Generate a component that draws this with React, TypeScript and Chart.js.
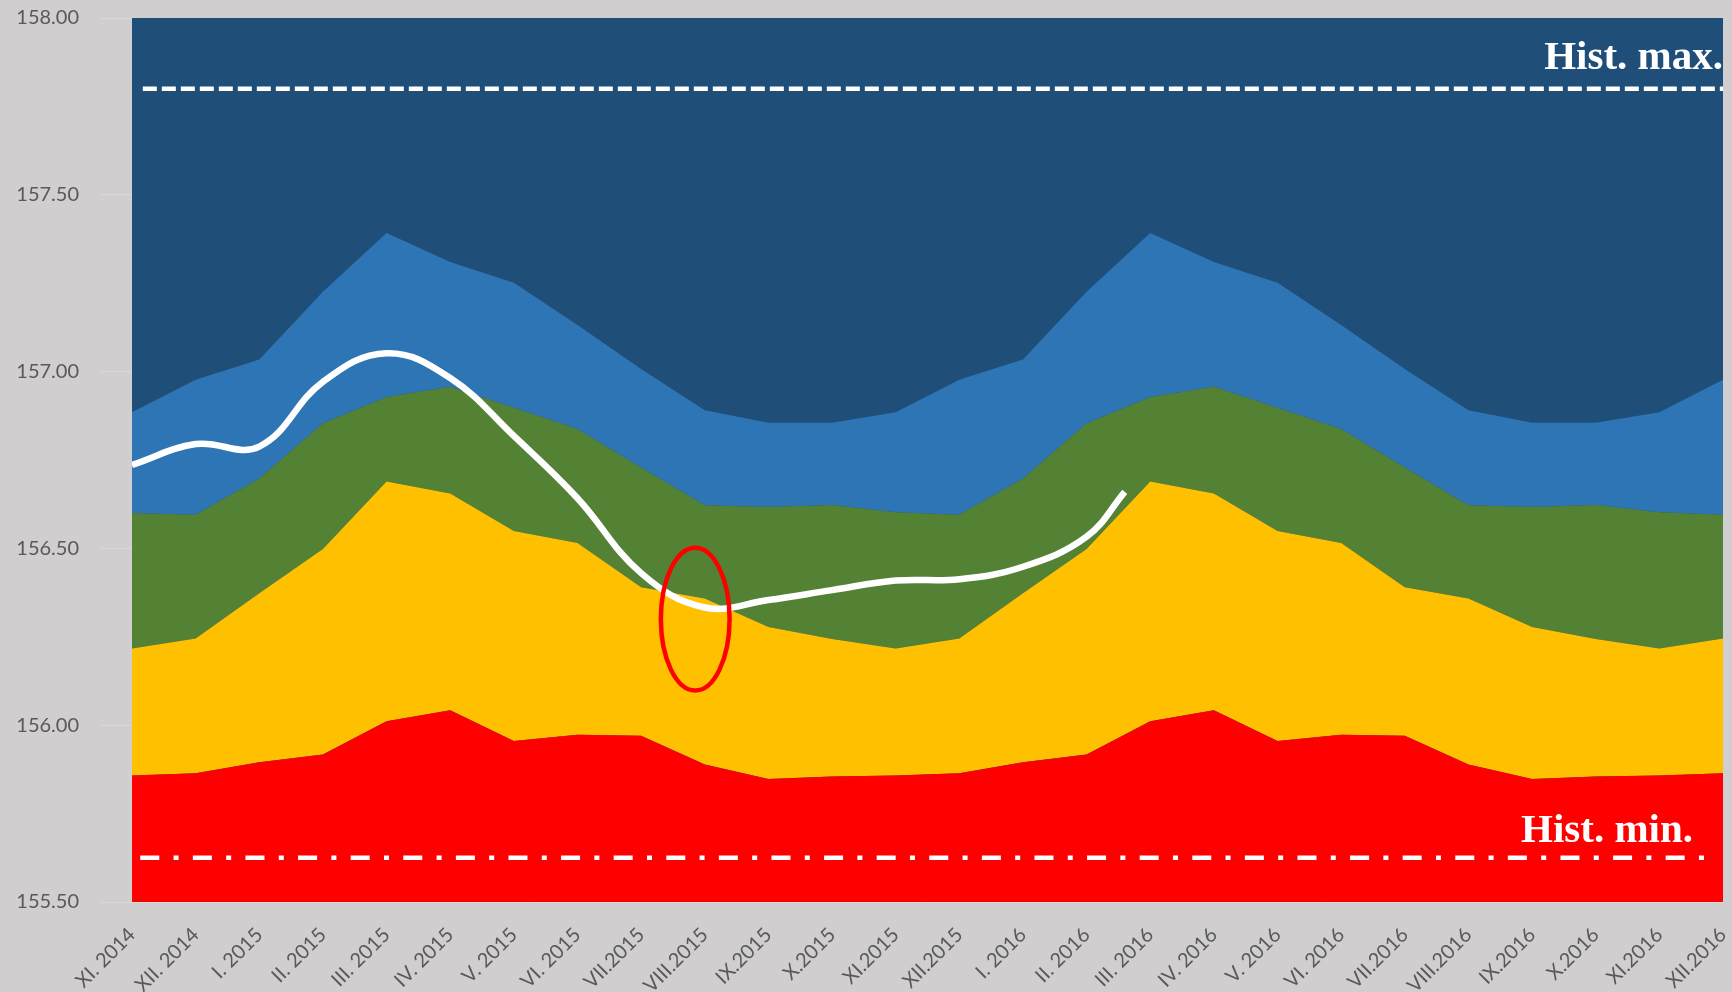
import React, { useEffect, useRef } from 'react';
import { Chart, registerables } from 'chart.js';

Chart.register(...registerables);

// ---------- data ----------
const months = [
  'XI. 2014', 'XII. 2014', 'I. 2015', 'II. 2015', 'III. 2015', 'IV. 2015', 'V. 2015', 'VI. 2015',
  'VII.2015', 'VIII.2015', 'IX.2015', 'X.2015', 'XI.2015', 'XII.2015', 'I. 2016', 'II. 2016',
  'III. 2016', 'IV. 2016', 'V. 2016', 'VI. 2016', 'VII.2016', 'VIII.2016', 'IX.2016', 'X.2016',
  'XI.2016', 'XII.2016',
];

// upper edge of each coloured band
const redTop = [
  155.858, 155.864, 155.895, 155.917, 156.011, 156.042, 155.955, 155.973, 155.970, 155.889, 155.848, 155.855,
  155.858, 155.864, 155.895, 155.917, 156.011, 156.042, 155.955, 155.973, 155.970, 155.889, 155.848, 155.855,
  155.858, 155.864,
];
const yellowTop = [
  156.217, 156.245, 156.373, 156.498, 156.689, 156.655, 156.549, 156.515, 156.390, 156.358, 156.278, 156.244,
  156.217, 156.245, 156.373, 156.498, 156.689, 156.655, 156.549, 156.515, 156.390, 156.358, 156.278, 156.244,
  156.217, 156.245,
];
const greenTop = [
  156.600, 156.595, 156.698, 156.854, 156.928, 156.957, 156.898, 156.838, 156.729, 156.622, 156.617, 156.623,
  156.602, 156.595, 156.698, 156.854, 156.928, 156.957, 156.898, 156.838, 156.729, 156.622, 156.617, 156.623,
  156.602, 156.595,
];
const lightBlueTop = [
  156.885, 156.977, 157.034, 157.226, 157.392, 157.310, 157.251, 157.132, 157.007, 156.891, 156.855, 156.855,
  156.885, 156.977, 157.034, 157.226, 157.392, 157.310, 157.251, 157.132, 157.007, 156.891, 156.855, 156.855,
  156.885, 156.977,
];

// actual level (white curve), positions in month index
const actualX = [0, 1, 2, 3, 4, 5, 6, 7, 8, 9, 10, 11, 12, 13, 14, 15, 15.6];
const actualY = [
  156.736, 156.795, 156.788, 156.971, 157.052, 156.982, 156.818, 156.642, 156.430, 156.333, 156.354, 156.382,
  156.409, 156.413, 156.448, 156.533, 156.660,
];

const histMax = 157.8;
const histMin = 155.625;
const histMaxX = [0.17, 25];
const histMinX = [0.13, 24.81];

const ellipseCenter = { x: 8.85, y: 156.3 };
const ellipseRadius = { x: 0.54, y: 0.202 };

const yMin = 155.5;
const yMax = 158;
const yStep = 0.5;

// ---------- styles ----------
const BG = '#D0CECE';
const DARK_BLUE = '#1F4E79';
const LIGHT_BLUE = '#2E75B6';
const GREEN = '#548235';
const GOLD = '#FFC000';
const RED = '#FF0000';
const LABEL = '#595959';

const bandStyle = (color: string, fill: any) => ({
  backgroundColor: color,
  borderColor: color,
  borderWidth: 0,
  pointRadius: 0,
  fill,
  tension: 0,
  order: 5,
});

const overlayPlugin = {
  id: 'overlay',
  beforeDraw(chart: any) {
    const ctx = chart.ctx;
    ctx.save();
    ctx.fillStyle = BG;
    ctx.fillRect(0, 0, chart.width, chart.height);
    ctx.restore();
  },
  beforeDatasetsDraw(chart: any) {
    const { left, top, width, height } = chart.chartArea;
    const ctx = chart.ctx;
    ctx.save();
    ctx.fillStyle = DARK_BLUE;
    ctx.fillRect(left, top, width, height);
    ctx.restore();
  },
  afterDatasetsDraw(chart: any) {
    const ctx = chart.ctx;
    const xs = chart.scales.xl;
    const ys = chart.scales.y;
    const area = chart.chartArea;
    ctx.save();
    // red ellipse
    const cx = xs.getPixelForValue(ellipseCenter.x);
    const cy = ys.getPixelForValue(ellipseCenter.y);
    const rx = Math.abs(xs.getPixelForValue(ellipseCenter.x + ellipseRadius.x) - cx);
    const ry = Math.abs(ys.getPixelForValue(ellipseCenter.y + ellipseRadius.y) - cy);
    ctx.beginPath();
    ctx.ellipse(cx, cy, rx, ry, 0, 0, Math.PI * 2);
    ctx.strokeStyle = RED;
    ctx.lineWidth = 4.5;
    ctx.stroke();
    // labels
    ctx.fillStyle = '#FFFFFF';
    ctx.font = 'bold 41px "Liberation Serif"';
    ctx.textAlign = 'right';
    ctx.textBaseline = 'alphabetic';
    ctx.fillText('Hist. max.', area.right, ys.getPixelForValue(histMax) - 19.5);
    ctx.fillText('Hist. min.', area.right - 30, ys.getPixelForValue(histMin) - 16);
    ctx.restore();
  },
};

export default function App() {
  const ref = useRef<HTMLCanvasElement | null>(null);

  useEffect(() => {
    if (!ref.current) return;
    const chart = new Chart(ref.current, {
      type: 'line',
      data: {
        labels: months,
        datasets: [
          { label: 'red', data: redTop, ...bandStyle(RED, 'start') },
          { label: 'yellow', data: yellowTop, ...bandStyle(GOLD, '-1') },
          { label: 'green', data: greenTop, ...bandStyle(GREEN, '-1') },
          { label: 'lightblue', data: lightBlueTop, ...bandStyle(LIGHT_BLUE, '-1') },
          {
            label: 'actual',
            xAxisID: 'xl',
            data: actualX.map((x, i) => ({ x, y: actualY[i] })),
            borderColor: '#FFFFFF',
            borderWidth: 6.5,
            pointRadius: 0,
            fill: false,
            tension: 0.4,
            order: 1,
          },
          {
            label: 'histMax',
            xAxisID: 'xl',
            data: histMaxX.map((x) => ({ x, y: histMax })),
            borderColor: '#FFFFFF',
            borderWidth: 4.5,
            borderDash: [14, 5],
            pointRadius: 0,
            fill: false,
            order: 1,
          },
          {
            label: 'histMin',
            xAxisID: 'xl',
            data: histMinX.map((x) => ({ x, y: histMin })),
            borderColor: '#FFFFFF',
            borderWidth: 4.5,
            borderDash: [19, 14.3, 5, 14.3],
            pointRadius: 0,
            fill: false,
            order: 1,
          },
        ],
      },
      options: {
        responsive: false,
        animation: false,
        layout: { padding: { left: 0, right: 9, top: 18, bottom: 0 } },
        plugins: { legend: { display: false }, tooltip: { enabled: false } },
        scales: {
          x: {
            type: 'category',
            offset: false,
            grid: { display: false, drawTicks: false },
            border: { display: false },
            ticks: {
              autoSkip: false,
              maxRotation: 45,
              minRotation: 45,
              padding: 21,
              color: LABEL,
              font: { family: 'Lato', size: 20 },
            },
            afterFit: (s: any) => {
              s.height = 90;
              s.paddingLeft = 0;
              s.paddingRight = 0;
            },
          },
          xl: {
            type: 'linear',
            display: false,
            min: 0,
            max: months.length - 1,
            offset: false,
          },
          y: {
            min: yMin,
            max: yMax,
            grid: { color: '#D9D9D9', lineWidth: 1, tickLength: 32 },
            border: { display: false },
            ticks: {
              stepSize: yStep,
              padding: 21,
              color: LABEL,
              font: { family: 'Lato', size: 20 },
              callback: (v: any) => Number(v).toFixed(2),
            },
            afterFit: (s: any) => {
              s.width = 132;
              s.paddingTop = 0;
              s.paddingBottom = 0;
            },
          },
        },
      },
      plugins: [overlayPlugin],
    });
    return () => chart.destroy();
  }, []);

  return (
    <div style={{ position: 'fixed', left: 0, top: 0, width: 1732, height: 992, background: BG }}>
      <canvas ref={ref} width={1732} height={992} style={{ display: 'block' }} />
    </div>
  );
}
